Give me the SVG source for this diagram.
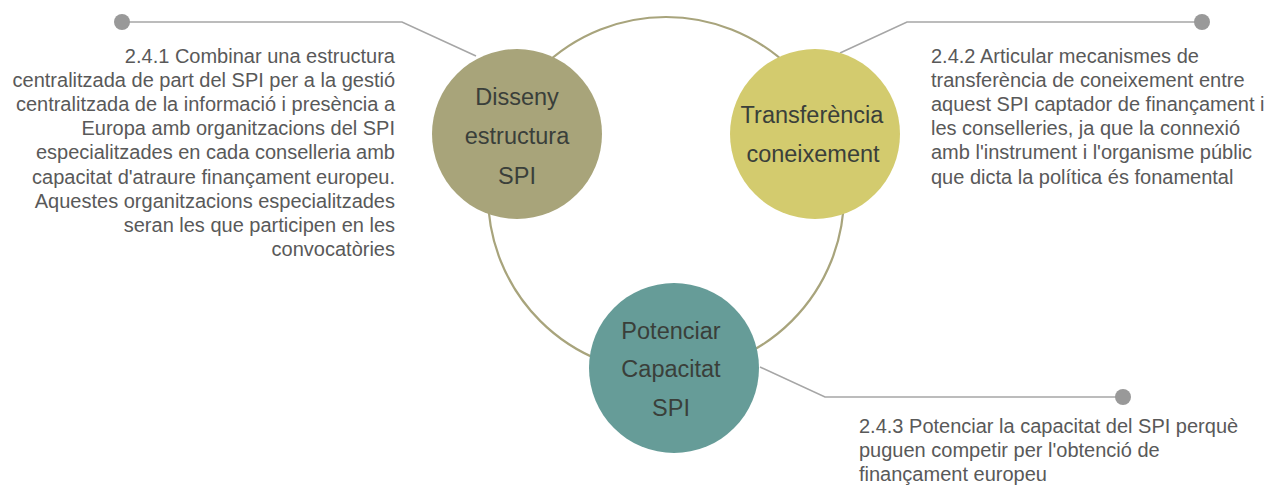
<svg xmlns="http://www.w3.org/2000/svg" width="1270" height="486" viewBox="0 0 1270 486">
<style>
.ring{fill:none;stroke:#a8a47c;stroke-width:2.2}
.lead{fill:none;stroke:#a6a6a6;stroke-width:1.6}
.dot{fill:#999999}
.desc{font-family:"Liberation Sans",Arial,sans-serif;font-size:20px;fill:#595959}
.lbl{font-family:"Liberation Sans",Arial,sans-serif;font-size:23.5px;fill:#3a3f3a;text-anchor:middle}
.r{text-anchor:end}
</style>
<rect width="1270" height="486" fill="#ffffff"/>
<g id="connectors">
<circle class="ring" cx="666" cy="195" r="178"/>
<polyline class="lead" points="122,22 402,22 476,56"/>
<circle class="dot" cx="122" cy="22" r="8"/>
<polyline class="lead" points="1202,22 907,22 840,53"/>
<circle class="dot" cx="1202" cy="22" r="8"/>
<polyline class="lead" points="760,367 825,397 1123,397"/>
<circle class="dot" cx="1123" cy="397" r="8"/>
</g>
<g id="node-disseny">
<circle cx="517" cy="134" r="85" fill="#a8a47a"/>
<text class="lbl" x="517" y="105">Disseny</text>
<text class="lbl" x="517" y="144">estructura</text>
<text class="lbl" x="517" y="184">SPI</text>
</g>
<g id="node-transferencia">
<circle cx="815" cy="134" r="85" fill="#d3cb6e"/>
<text class="lbl" x="812" y="123">Transferència</text>
<text class="lbl" x="813" y="162">coneixement</text>
</g>
<g id="node-potenciar">
<circle cx="674" cy="368" r="85" fill="#669c98"/>
<text class="lbl" x="671" y="339">Potenciar</text>
<text class="lbl" x="671" y="377">Capacitat</text>
<text class="lbl" x="671" y="416">SPI</text>
</g>
<g id="text-241">
<text class="desc r" x="395" y="63">2.4.1 Combinar una estructura</text>
<text class="desc r" x="395" y="87.1">centralitzada de part del SPI per a la gestió</text>
<text class="desc r" x="395" y="111.2">centralitzada de la informació i presència a</text>
<text class="desc r" x="395" y="135.3">Europa amb organitzacions del SPI</text>
<text class="desc r" x="395" y="159.4">especialitzades en cada conselleria amb</text>
<text class="desc r" x="395" y="183.5">capacitat d'atraure finançament europeu.</text>
<text class="desc r" x="395" y="207.6">Aquestes organitzacions especialitzades</text>
<text class="desc r" x="395" y="231.7">seran les que participen en les</text>
<text class="desc r" x="395" y="255.8">convocatòries</text>
</g>
<g id="text-242">
<text class="desc" x="931" y="63">2.4.2 Articular mecanismes de</text>
<text class="desc" x="931" y="87.1">transferència de coneixement entre</text>
<text class="desc" x="931" y="111.2">aquest SPI captador de finançament i</text>
<text class="desc" x="931" y="135.3">les conselleries, ja que la connexió</text>
<text class="desc" x="931" y="159.4">amb l'instrument i l'organisme públic</text>
<text class="desc" x="931" y="183.5">que dicta la política és fonamental</text>
</g>
<g id="text-243">
<text class="desc" x="859" y="432.5">2.4.3 Potenciar la capacitat del SPI perquè</text>
<text class="desc" x="859" y="457">puguen competir per l'obtenció de</text>
<text class="desc" x="859" y="481">finançament europeu</text>
</g>
</svg>
